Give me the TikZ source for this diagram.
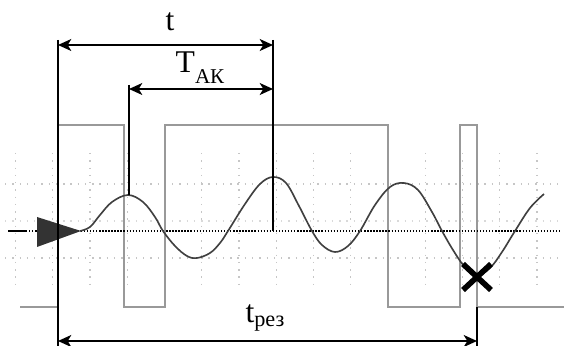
\documentclass[tikz,border=0pt]{standalone}
\usepackage{fontspec}
\setmainfont{Liberation Serif}
\usetikzlibrary{arrows.meta,positioning,calc}

\begin{document}
\begin{tikzpicture}[
    x=0.03cm, y=-0.03cm,
    grid/.style={gray!45, line width=1pt, dash pattern=on 1.2pt off 5pt},
    zeroline/.style={black, line width=1.3pt, dash pattern=on 1.2pt off 1.4pt},
    pulse/.style={gray!80, line width=1.7pt},
    wave/.style={black!75, line width=1.4pt},
    extline/.style={black, line width=1.2pt},
    dim/.style={black, line width=1.2pt, {Stealth[length=0.4cm, width=0.36cm, inset=0.11cm]}-{Stealth[length=0.4cm, width=0.36cm, inset=0.11cm]}},
    lbl/.style={font=\fontsize{27}{30}\selectfont, inner sep=0pt}
]
    \useasboundingbox (0,0) rectangle (564,346);

    % grid
    \foreach \k in {0,...,14}
        \draw[grid] ({15.5+37.25*\k},153) -- ({15.5+37.25*\k},290);
    \foreach \y in {184,258}
        \draw[grid] (5,\y) -- (560,\y);
    \draw[grid, gray!30] (5,221) -- (560,221);

    % test pulses
    \draw[pulse] (20,307) -- (58,307) -- (58,125) -- (124,125) -- (124,307) -- (165,307)
        -- (165,125) -- (388,125) -- (388,307) -- (460,307) -- (460,125) -- (477,125)
        -- (477,307) -- (564,307);

    % zero line
    \draw[black, line width=1.3pt] (8,231) -- (26,231);
    \draw[zeroline] (26,231) -- (560,231);

    % oscillation
    \draw[wave] plot[smooth, tension=0.6] coordinates {
        (80,231) (90,227) (100,215) (112,202) (128,195) (143,202) (155,217) (163,231)
        (175,246) (187,256) (197,258) (210,253) (220,243) (228,231) (245,204) (260,184)
        (273,177) (286,183) (299,206) (312,231) (322,245) (335,252) (348,246) (360,231)
        (375,205) (390,187) (404,183) (418,190) (432,212) (442,231) (453,250) (464,266)
        (476,276) (490,268) (502,252) (515,231) (530,208) (544,194)};

    % start marker
    \fill[black!80] (37,217) -- (81,231) -- (37,247) -- cycle;

    % extension lines
    \coordinate (start top) at (58,40);
    \coordinate (start bot) at (58,346);
    \coordinate (peak1) at (129,195);
    \coordinate (peak1 top) at (129,85);
    \coordinate (peak2) at (273,231);
    \coordinate (peak2 top) at (273,40);
    \coordinate (cut) at (477,307);
    \coordinate (cut bot) at (477,346);
    \draw[extline] (start top) -- (start bot);
    \draw[extline] (peak1 top) -- (peak1);
    \draw[extline] (peak2 top) -- (peak2);
    \draw[extline] (cut) -- (cut bot);

    % dimension arrows
    \coordinate (t l) at (58,45);
    \coordinate (t r) at (273,45);
    \coordinate (tak l) at (129,89);
    \coordinate (tak r) at (273,89);
    \coordinate (trez l) at (58,341);
    \coordinate (trez r) at (477,341);
    \draw[dim] (t l) -- (t r);
    \draw[dim] (tak l) -- (tak r);
    \draw[dim] (trez l) -- (trez r);

    % cut-off mark
    \coordinate (xmark) at (477,277);
    \draw[black, line width=4.8pt] ($(xmark)+(-14,-13)$) -- ($(xmark)+(14,13)$);
    \draw[black, line width=4.8pt] ($(xmark)+(-14,13)$) -- ($(xmark)+(14,-13)$);

    % labels
    \node[lbl] (t) at (170,22) {t};
    \node[lbl] (tak) at (200,68) {T\raisebox{-0.35em}{\fontsize{18}{20}\selectfont АК}};
    \node[lbl] (trez) at (265,318) {t\raisebox{-0.12em}{\fontsize{19}{20}\selectfont рез}};
\end{tikzpicture}
\end{document}
